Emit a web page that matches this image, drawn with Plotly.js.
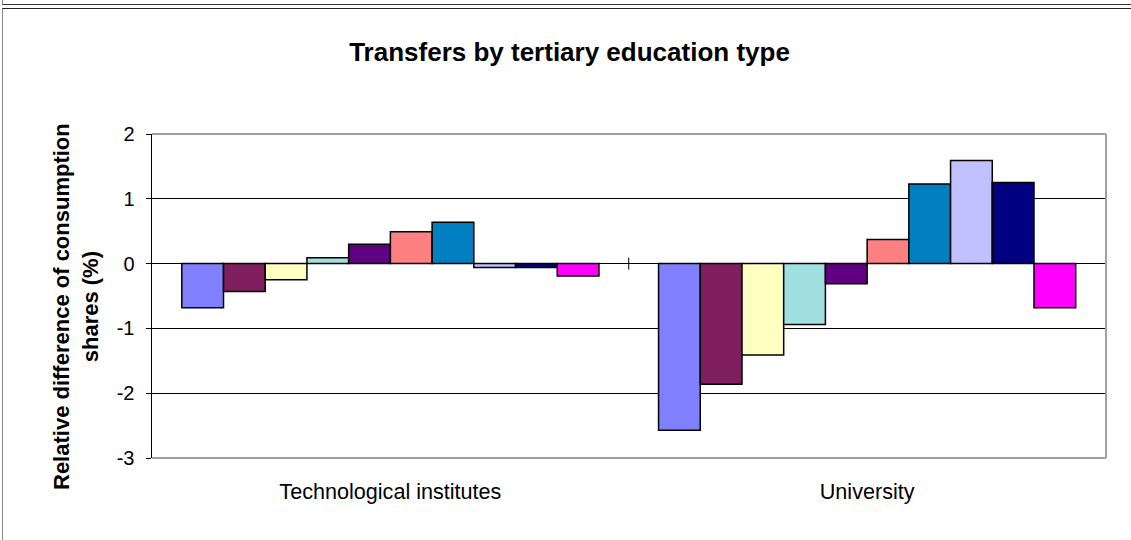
<!DOCTYPE html>
<html>
<head>
<meta charset="utf-8">
<script src="https://cdn.plot.ly/plotly-3.0.1.min.js"></script>
<style>
html,body{margin:0;padding:0;background:#fff;width:1131px;height:540px;overflow:hidden;}
#topline{position:absolute;left:2px;top:0;width:1131px;height:4px;border-bottom:1px solid #333;border-left:1px solid #888;}
#frame{position:absolute;left:2px;top:8px;width:1140px;height:540px;border-left:1px solid #888;border-top:1px solid #222;}
#chart{position:absolute;left:0;top:0;width:1131px;height:540px;}
</style>
</head>
<body>
<div id="topline"></div>
<div id="frame"></div>
<div id="chart"></div>
<script>
const categories = ["Technological institutes", "University"];
const seriesColors = ["#8080FF","#7F1F5F","#FFFFC0","#A0E0E0","#600080","#FF8080","#0080C0","#C0C0FF","#000080","#FF00FF"];
const s1 = [-0.68, -2.57];
const s2 = [-0.43, -1.86];
const s3 = [-0.25, -1.41];
const s4 = [0.09, -0.94];
const s5 = [0.30, -0.31];
const s6 = [0.49, 0.37];
const s7 = [0.64, 1.23];
const s8 = [-0.06, 1.59];
const s9 = [-0.06, 1.25];
const s10 = [-0.19, -0.68];
const seriesValues = [s1,s2,s3,s4,s5,s6,s7,s8,s9,s10];
const yTicks = [-3,-2,-1,0,1,2];

const traces = seriesValues.map((v,i)=>({
  type:'bar', x:categories, y:v,
  marker:{color:seriesColors[i], line:{color:'#000', width:1.5}},
  showlegend:false, hoverinfo:'y'
}));

const shapes = [];
[0.5, 1.5].forEach(b=>shapes.push({type:'line', xref:'x', yref:'y', x0:b, x1:b,
  ysizemode:'pixel', yanchor:0, y0:-6, y1:6, line:{color:'#000', width:1}}));
shapes.push({type:'line', xref:'paper', yref:'paper', x0:0, x1:1, y0:1, y1:1, line:{color:'#a0a0a0', width:2}, layer:'above'});
shapes.push({type:'line', xref:'paper', yref:'paper', x0:1, x1:1, y0:0, y1:1, line:{color:'#a0a0a0', width:2}, layer:'above'});
shapes.push({type:'line', xref:'paper', yref:'paper', x0:0, x1:1, y0:0, y1:0, line:{color:'#a0a0a0', width:2}, layer:'above'});

const layout = {
  width:1131, height:540,
  margin:{l:152, r:25, t:134, b:82},
  paper_bgcolor:'rgba(0,0,0,0)', plot_bgcolor:'rgba(0,0,0,0)',
  font:{family:'Arial, "Liberation Sans", sans-serif', color:'#000'},
  title:{text:'<b>Transfers by tertiary education type</b>', font:{size:26, color:'#000'},
    x:569.5/1131, xanchor:'center', y:1-52/540, yanchor:'middle'},
  bargap:0.125, bargroupgap:0,
  barmode:'group',
  xaxis:{type:'category', showline:false, ticks:'', showgrid:false, zeroline:false,
    tickfont:{size:21.6}, ticklabelstandoff:18, fixedrange:true},
  yaxis:{range:[-3,2], tickvals:yTicks, ticktext:yTicks.map(String), showgrid:true, gridcolor:'#000', gridwidth:1,
    zeroline:true, zerolinecolor:'#000', zerolinewidth:1,
    showline:true, linecolor:'#000', linewidth:1.5, ticks:'outside', ticklen:5, tickcolor:'#000',
    tickfont:{size:20}, ticklabelstandoff:7,
    automargin:false, fixedrange:true},
  annotations:[{text:'<b>Relative difference of consumption<br>shares (%)</b>', textangle:-90,
    xref:'paper', yref:'paper', x:(76-152)/954, y:(458-307)/324, xanchor:'center', yanchor:'middle',
    showarrow:false, font:{size:22, color:'#000'}}],
  shapes:shapes
};
Plotly.newPlot('chart', traces, layout, {displayModeBar:false, staticPlot:true});
</script>
</body>
</html>
